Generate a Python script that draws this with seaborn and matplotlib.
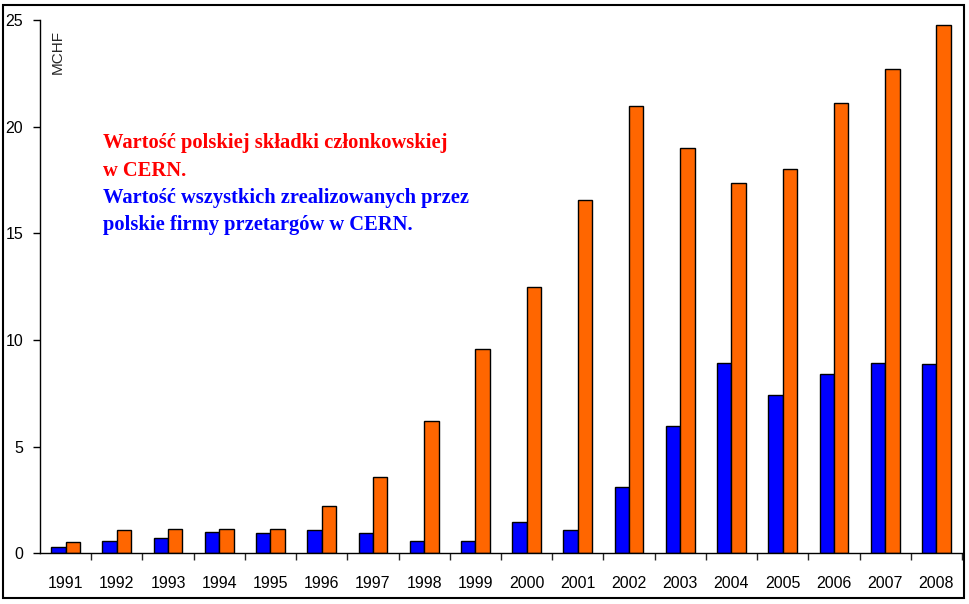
import pandas as pd
import matplotlib
matplotlib.use("Agg")
import matplotlib.pyplot as plt
import matplotlib.patches as patches
import seaborn as sns

# data (MCHF)
years = [str(y) for y in range(1991, 2009)]
tenders = [0.28, 0.58, 0.70, 0.99, 0.94, 1.08, 0.94, 0.60, 0.60, 1.45,
           1.08, 3.10, 5.96, 8.92, 7.42, 8.40, 8.92, 8.87]
contribution = [0.52, 1.07, 1.13, 1.13, 1.13, 2.20, 3.57, 6.20, 9.57, 12.50,
                16.55, 20.97, 19.00, 17.35, 18.00, 21.10, 22.70, 24.77]
series_names = ["tenders", "contribution"]
y_ticks = [0, 5, 10, 15, 20, 25]

df = pd.DataFrame({
    "year": years * 2,
    "value": tenders + contribution,
    "series": [series_names[0]] * len(years) + [series_names[1]] * len(years),
})

sns.set_style("white")
plt.rcParams["font.family"] = ["Liberation Sans", "DejaVu Sans"]

fig = plt.figure(figsize=(9.7, 6.04), dpi=100)
W, H = 970, 604
ax = fig.add_axes([40 / W, (H - 553.3) / H, (962 - 40) / W, (553.3 - 20) / H])

sns.barplot(data=df, x="year", y="value", hue="series", order=years,
            hue_order=series_names, palette=["#0000FF", "#FF6600"],
            width=0.56, edgecolor="black", linewidth=1, saturation=1,
            legend=False, ax=ax)

ax.set_xlim(-0.5, len(years) - 0.5)
ax.set_ylim(0, 25)
ax.set_yticks(y_ticks)
ax.set_xlabel("")
ax.set_ylabel("")
for s in ["top", "right"]:
    ax.spines[s].set_visible(False)
for s in ["left", "bottom"]:
    ax.spines[s].set_color("black")
    ax.spines[s].set_linewidth(1)

ax.tick_params(axis="y", direction="out", length=5, width=1, labelsize=11.5,
               pad=7, colors="black", left=True)
ax.tick_params(axis="x", which="major", length=0, labelsize=11.5, pad=16,
               colors="black")
ax.set_xticks([i + 0.5 for i in range(len(years))], minor=True)
ax.tick_params(axis="x", which="minor", direction="out", length=5, width=1,
               bottom=True)

ax.text(58 / W, (H - 30) / H, "MCHF", transform=fig.transFigure, rotation=90,
        ha="center", va="top", fontsize=11)

serif = ["Liberation Serif", "DejaVu Serif"]
lines = [("Wartość polskiej składki członkowskiej", "#FF0000", 143),
         ("w CERN.", "#FF0000", 171),
         ("Wartość wszystkich zrealizowanych przez", "#0000FF", 198),
         ("polskie firmy przetargów w CERN.", "#0000FF", 225)]
for txt, col, yy in lines:
    fig.text(103 / W, (H - yy) / H, txt, color=col, fontsize=14.75,
             fontweight="bold", family=serif, ha="left", va="center")

fig.patches.append(patches.Rectangle((3 / W, (H - 598) / H), (964 - 3) / W,
                                     (598 - 5) / H, transform=fig.transFigure,
                                     fill=False, edgecolor="black", linewidth=1.5))

fig.savefig("out.png", dpi=100)
